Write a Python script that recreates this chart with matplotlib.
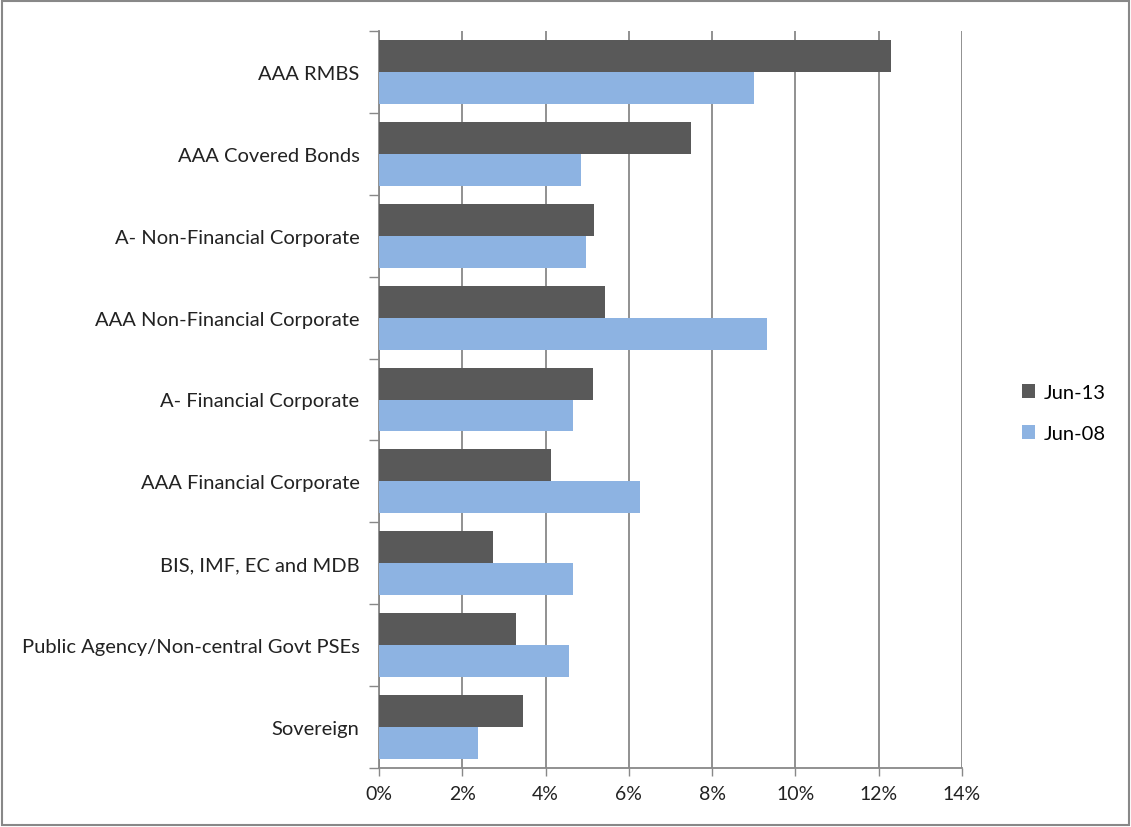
import matplotlib
matplotlib.use("Agg")
import matplotlib.pyplot as plt
import numpy as np
from matplotlib.patches import Rectangle
from matplotlib.ticker import FuncFormatter, FixedLocator

categories = [
    "AAA RMBS",
    "AAA Covered Bonds",
    "A- Non-Financial Corporate",
    "AAA Non-Financial Corporate",
    "A- Financial Corporate",
    "AAA Financial Corporate",
    "BIS, IMF, EC and MDB",
    "Public Agency/Non-central Govt PSEs",
    "Sovereign",
]
jun13 = [12.3, 7.5, 5.17, 5.43, 5.14, 4.13, 2.74, 3.29, 3.46]
jun08 = [9.0, 4.85, 4.97, 9.32, 4.66, 6.27, 4.66, 4.56, 2.38]

plt.rcParams['font.family'] = ['Lato', 'DejaVu Sans']

fig = plt.figure(figsize=(11.31, 8.28), dpi=100)
ax = fig.add_axes([379 / 1131, 1 - 769 / 828, 583 / 1131, 737 / 828])

n = len(categories)
y = np.arange(n)
h = 0.39
ax.barh(y - h / 2, jun13, height=h, color='#595959', label='Jun-13', zorder=3)
ax.barh(y + h / 2, jun08, height=h, color='#8DB3E2', label='Jun-08', zorder=3)

ax.set_ylim(n - 0.5, -0.5)
ax.set_xlim(0, 14)
ax.set_xticks(np.arange(0, 15, 2))
ax.xaxis.set_major_formatter(FuncFormatter(lambda v, p: f"{v:.0f}%"))
ax.set_yticks(y)
ax.set_yticklabels(categories)
ax.yaxis.set_minor_locator(FixedLocator(np.arange(-0.5, n, 1)))
ax.tick_params(axis='y', which='major', length=0, pad=14, labelsize=14.5, labelcolor='#222222')
ax.tick_params(axis='y', which='minor', length=7, color='#888888', width=1)
ax.tick_params(axis='x', length=6, color='#888888', width=1, labelsize=14, labelcolor='#222222', pad=6)

ax.grid(axis='x', color='#888888', linewidth=1.3, zorder=0)
for s in ['top', 'right']:
    ax.spines[s].set_visible(False)
for s in ['left', 'bottom']:
    ax.spines[s].set_color('#888888')
    ax.spines[s].set_linewidth(1.3)

ax.legend(loc='center left', bbox_to_anchor=(1004 / 1131, 0.5), bbox_transform=fig.transFigure,
          frameon=False, fontsize=14.5, handlelength=0.65, handleheight=0.65,
          handletextpad=0.4, labelspacing=1.2)

fig.patches.append(Rectangle((0.002, 0.002), 0.996, 0.995, transform=fig.transFigure,
                             fill=False, edgecolor='#888888', linewidth=1.5))

fig.savefig("out.png", dpi=100)
